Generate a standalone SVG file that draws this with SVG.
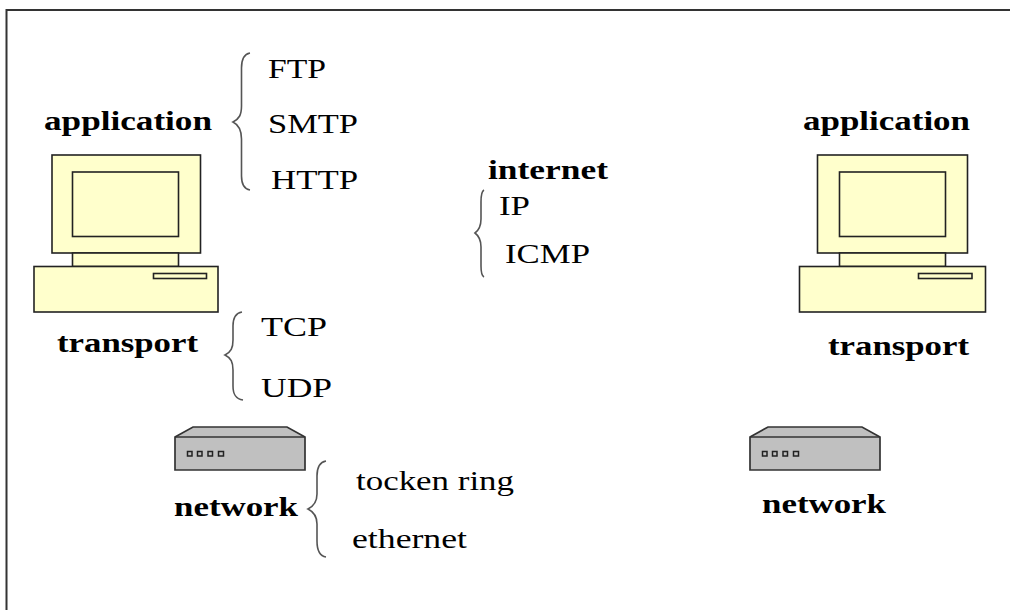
<svg xmlns="http://www.w3.org/2000/svg" width="1010" height="610" viewBox="0 0 1010 610">
<style>
text{font-family:"Liberation Serif","Times New Roman",serif;fill:#000}
.r{font-size:28px}
.b{font-size:28px;font-weight:bold}
.c{fill:#ffffcc;stroke:#222;stroke-width:1.6}
.g{fill:#c0c0c0;stroke:#333;stroke-width:1.7}
.p{fill:none;stroke:#222;stroke-width:1.5}
.br{fill:none;stroke:#555;stroke-width:1.6}
</style>
<defs>
<g id="router">
<path class="g" d="M175 437L193 427H287L305 437V470H175Z"/>
<path class="g" d="M175 437H305"/>
<rect class="p" x="187.500" y="451.500" width="4.500" height="4.500"/>
<rect class="p" x="197.500" y="451.500" width="4.500" height="4.500"/>
<rect class="p" x="208" y="451.500" width="4.500" height="4.500"/>
<rect class="p" x="218.500" y="451.500" width="5" height="4.500"/>
</g>
</defs>
<rect width="1010" height="610" fill="#fff"/>
<path id="frame" d="M6.500 610V10H1010" fill="none" stroke="#333" stroke-width="2"/>
<g id="connectors">
<path class="br" d="M250 53C244 54 241.500 59 241.500 68V106C241.500 115 239 119 233 122C239 125 241.500 130 241.500 139V176C241.500 185 244 189 250 190"/>
<path class="br" d="M242 312C236 313 233 318 233 326V340C233 348 231 352 225 355C231 358 233 362 233 370V386C233 395 236 399 243 400"/>
<path class="br" d="M326 461C320 462 317 467 317 476V494C317 502 314 506 308 509C314 512 317 516 317 524V541C317 550 320 556 326 557"/>
<path class="br" d="M484 190C482 191 481 195 481 202V219C481 226 479 230 475 233C479 236 481 240 481 247V266C481 273 482 276 484 277"/>
</g>
<g id="computer-left">
<rect class="c" x="52" y="155" width="148.500" height="98"/>
<rect class="c" x="72.500" y="172" width="106" height="64.500"/>
<rect class="c" x="72.500" y="253" width="106" height="13.500"/>
<rect class="c" x="34" y="266.500" width="184" height="45.500"/>
<rect class="c" x="153.500" y="273.500" width="53" height="5"/>
</g>
<g id="computer-right">
<rect class="c" x="817.500" y="155" width="150" height="98"/>
<rect class="c" x="839.500" y="172" width="106" height="64.500"/>
<rect class="c" x="839.500" y="253" width="106" height="13.500"/>
<rect class="c" x="799.500" y="266.500" width="186" height="45.500"/>
<rect class="c" x="918.500" y="273.500" width="53.500" height="5"/>
</g>
<g id="router-left"><use href="#router"/></g>
<g id="router-right"><use href="#router" x="575"/></g>
<g id="labels">
<text class="b" x="44" y="130" textLength="168" lengthAdjust="spacingAndGlyphs">application</text>
<text class="b" x="803" y="130" textLength="167" lengthAdjust="spacingAndGlyphs">application</text>
<text class="b" x="57" y="352" textLength="141" lengthAdjust="spacingAndGlyphs">transport</text>
<text class="b" x="828" y="355" textLength="141" lengthAdjust="spacingAndGlyphs">transport</text>
<text class="b" x="174" y="516" textLength="124" lengthAdjust="spacingAndGlyphs">network</text>
<text class="b" x="762" y="513" textLength="124" lengthAdjust="spacingAndGlyphs">network</text>
<text class="b" x="488" y="179" textLength="120" lengthAdjust="spacingAndGlyphs">internet</text>
<text class="r" x="268" y="78" textLength="58" lengthAdjust="spacingAndGlyphs">FTP</text>
<text class="r" x="268" y="133" textLength="90" lengthAdjust="spacingAndGlyphs">SMTP</text>
<text class="r" x="271" y="189" textLength="87" lengthAdjust="spacingAndGlyphs">HTTP</text>
<text class="r" x="261" y="336" textLength="66" lengthAdjust="spacingAndGlyphs">TCP</text>
<text class="r" x="261" y="397" textLength="71" lengthAdjust="spacingAndGlyphs">UDP</text>
<text class="r" x="499" y="215" textLength="31" lengthAdjust="spacingAndGlyphs">IP</text>
<text class="r" x="505" y="263" textLength="85" lengthAdjust="spacingAndGlyphs">ICMP</text>
<text class="r" x="356" y="490" textLength="158" lengthAdjust="spacingAndGlyphs">tocken ring</text>
<text class="r" x="352" y="548" textLength="115" lengthAdjust="spacingAndGlyphs">ethernet</text>
</g>
</svg>
